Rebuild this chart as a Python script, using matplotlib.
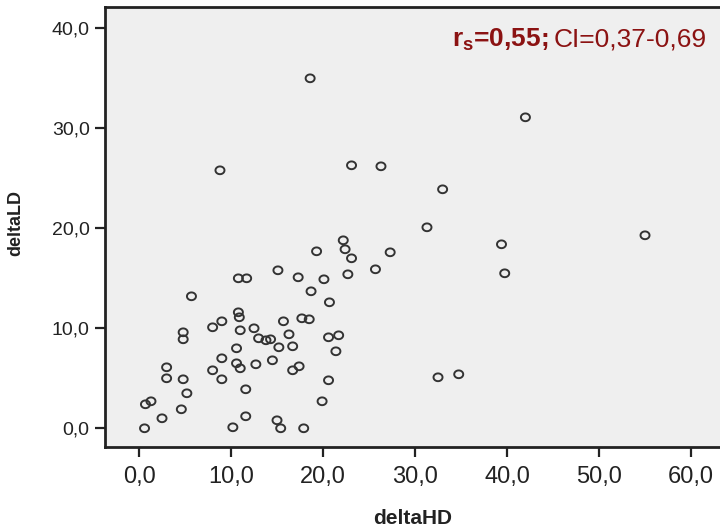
"""deltaLD vs deltaHD scatter with Spearman correlation annotation."""

import numpy as np
import matplotlib
matplotlib.use("Agg")
import matplotlib.pyplot as plt
from matplotlib.path import Path
from matplotlib.ticker import FuncFormatter

plt.rcParams["font.family"] = ["Liberation Sans", "DejaVu Sans"]
plt.rcParams["mathtext.fontset"] = "custom"
plt.rcParams["mathtext.rm"] = "Liberation Sans"
plt.rcParams["mathtext.bf"] = "Liberation Sans:bold"

# ---------------------------------------------------------------------------
# Data
# ---------------------------------------------------------------------------

delta_hd = [
    18.6, 42.0, 8.8, 23.1, 26.3, 33.0, 31.3, 55.0, 39.4, 39.75,
    34.75, 32.5, 27.3, 25.7, 22.2, 22.4, 23.1, 22.7, 19.3, 15.1,
    10.8, 11.7, 17.3, 20.1, 18.7, 20.7, 5.7, 10.8, 10.9, 9.0,
    8.0, 11.0, 12.5, 15.7, 17.7, 18.5, 16.3, 20.6, 21.7, 4.8,
    4.8, 13.0, 13.8, 14.3, 10.6, 15.2, 16.7, 21.4, 9.0, 10.6,
    11.0, 12.7, 14.5, 16.7, 17.4, 3.0, 3.0, 4.8, 8.0, 9.0,
    20.6, 5.2, 11.6, 0.7, 1.3, 4.6, 19.9, 2.5, 11.6, 15.0,
    0.6, 10.2, 15.4, 17.9,
]
delta_ld = [
    35.0, 31.1, 25.8, 26.3, 26.2, 23.9, 20.1, 19.3, 18.4, 15.5,
    5.4, 5.1, 17.6, 15.9, 18.8, 17.9, 17.0, 15.4, 17.7, 15.8,
    15.0, 15.0, 15.1, 14.9, 13.7, 12.6, 13.2, 11.6, 11.1, 10.7,
    10.1, 9.8, 10.0, 10.7, 11.0, 10.9, 9.4, 9.1, 9.3, 9.6,
    8.9, 9.0, 8.8, 8.9, 8.0, 8.1, 8.2, 7.7, 7.0, 6.5,
    6.0, 6.4, 6.8, 5.8, 6.2, 6.1, 5.0, 4.9, 5.8, 4.9,
    4.8, 3.5, 3.9, 2.4, 2.7, 1.9, 2.7, 1.0, 1.2, 0.8,
    0.0, 0.1, 0.0, 0.0,
]

x_ticks = [0, 10, 20, 30, 40, 50, 60]
y_ticks = [0, 10, 20, 30, 40]
stat_label = r"r$\mathbf{_s}$=0,55;"
ci_label = "CI=0,37-0,69"

# ---------------------------------------------------------------------------
# Plot
# ---------------------------------------------------------------------------

fig = plt.figure(figsize=(7.2, 5.32), dpi=100)
ax = fig.add_axes([0.1458, 0.1598, 0.8542, 0.827])
ax.set_facecolor("#efefef")

# slightly flattened hollow circle
t = np.linspace(0, 2 * np.pi, 60)
ring = Path(np.column_stack([np.cos(t), 0.86 * np.sin(t)]), closed=True)

ax.scatter(delta_hd, delta_ld, s=42, marker=ring, facecolors="none",
           edgecolors="#333333", linewidths=1.4, zorder=3)

ax.set_xlim(-3.7, 63.15)
ax.set_ylim(-1.87, 42.13)
ax.set_xticks(x_ticks)
ax.set_yticks(y_ticks)
comma = FuncFormatter(lambda v, _: f"{v:.1f}".replace(".", ","))
ax.xaxis.set_major_formatter(comma)
ax.yaxis.set_major_formatter(comma)

for side in ("left", "bottom", "top"):
    ax.spines[side].set_linewidth(2.0)
    ax.spines[side].set_color("#222222")
ax.spines["right"].set_visible(False)

ax.tick_params(axis="x", length=7, width=1.6, color="#222222",
               labelsize=17, pad=7, labelcolor="#222222")
ax.tick_params(axis="y", length=7, width=1.6, color="#222222",
               labelsize=14, pad=4, labelcolor="#222222")

ax.set_xlabel("deltaHD", fontsize=15, fontweight="bold", color="#222222")
ax.set_ylabel("deltaLD", fontsize=13, fontweight="bold", color="#222222")
ax.xaxis.set_label_coords(0.5, -0.14)
ax.yaxis.set_label_coords(-0.132, 0.51)

ci_text = fig.text(707 / 720, 1 - 40 / 532, ci_label, fontsize=19,
                   color="#8b1212", ha="right", va="center")
ax.annotate(stat_label, xy=(0, 0.5), xycoords=ci_text,
            xytext=(-4, 0), textcoords="offset points",
            fontsize=19, fontweight="bold", color="#8b1212",
            ha="right", va="center")

fig.savefig("out.png", dpi=100)
